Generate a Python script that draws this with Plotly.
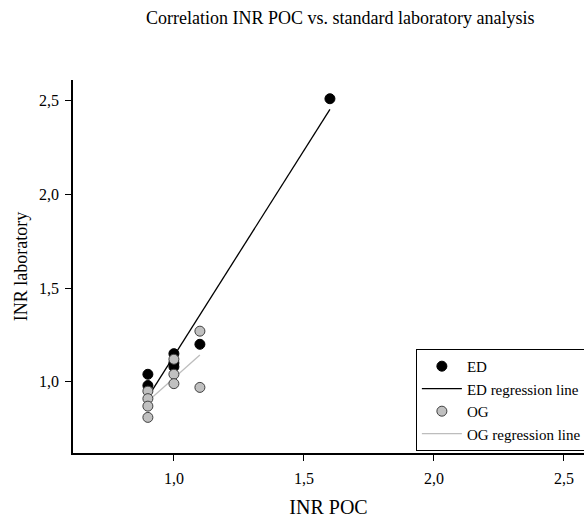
import numpy as np
import plotly.graph_objects as go

# Data
ed_x = [0.9, 0.9, 1.0, 1.0, 1.0, 1.1, 1.6]
ed_y = [1.04, 0.98, 1.15, 1.10, 1.08, 1.20, 2.51]
og_x = [0.9, 0.9, 0.9, 0.9, 1.0, 1.0, 1.0, 1.1, 1.1]
og_y = [0.95, 0.91, 0.87, 0.81, 1.12, 1.04, 0.99, 1.27, 0.97]
tick_vals = [1.0, 1.5, 2.0, 2.5]

FONT = "Liberation Serif, Times New Roman, serif"

def reg_line(xs, ys):
    m, b = np.polyfit(xs, ys, 1)
    x0, x1 = min(xs), max(xs)
    return [x0, x1], [m * x0 + b, m * x1 + b]

ed_lx, ed_ly = reg_line(ed_x, ed_y)
og_lx, og_ly = reg_line(og_x, og_y)

fig = go.Figure()
fig.add_trace(go.Scatter(x=ed_lx, y=ed_ly, mode="lines", name="ED regression line",
                         line=dict(color="black", width=1.3), legendrank=2))
fig.add_trace(go.Scatter(x=og_lx, y=og_ly, mode="lines", name="OG regression line",
                         line=dict(color="#bdbdbd", width=1.3), legendrank=4))
fig.add_trace(go.Scatter(x=ed_x, y=ed_y, mode="markers", name="ED",
                         marker=dict(color="black", size=10, line=dict(color="black", width=1)),
                         legendrank=1))
fig.add_trace(go.Scatter(x=og_x, y=og_y, mode="markers", name="OG",
                         marker=dict(color="#c0c0c0", size=10, line=dict(color="#404040", width=1)),
                         legendrank=3))

fig.update_layout(
    width=584, height=518,
    margin=dict(l=73, r=0, t=80, b=65, autoexpand=False),
    paper_bgcolor="white", plot_bgcolor="white",
    separators=", ",
    font=dict(family=FONT, color="black", size=16),
    showlegend=True,
    legend=dict(x=0.671, y=0.279, xanchor="left", yanchor="top",
                bordercolor="black", borderwidth=1, bgcolor="white",
                font=dict(family=FONT, size=15), tracegroupgap=0,
                itemwidth=40, traceorder="normal"),
    annotations=[dict(text="Correlation INR POC vs. standard laboratory analysis",
                      xref="paper", yref="paper", x=0.522, y=1.0, yshift=62,
                      xanchor="center", yanchor="middle", showarrow=False,
                      font=dict(family=FONT, size=18, color="black"))],
)
fig.update_xaxes(range=[0.612, 2.577], tickvals=tick_vals, tickformat=".1f", automargin=False,
                 showgrid=False, zeroline=False, showline=True, linecolor="black", linewidth=1.5,
                 ticks="outside", ticklen=6, tickcolor="black", tickfont=dict(size=16),
                 ticklabelstandoff=4,
                 title=dict(text="INR POC", font=dict(size=20), standoff=16))
fig.update_yaxes(range=[0.62, 2.61], tickvals=tick_vals, tickformat=".1f", automargin=False,
                 showgrid=False, zeroline=False, showline=True, linecolor="black", linewidth=1.5,
                 ticks="outside", ticklen=6, tickcolor="black", tickfont=dict(size=16),
                 ticklabelstandoff=3,
                 title=dict(text="INR laboratory", font=dict(size=18), standoff=7))

fig.write_html("out.html", config={"displayModeBar": False},
               post_script="document.body.style.margin='0';")
